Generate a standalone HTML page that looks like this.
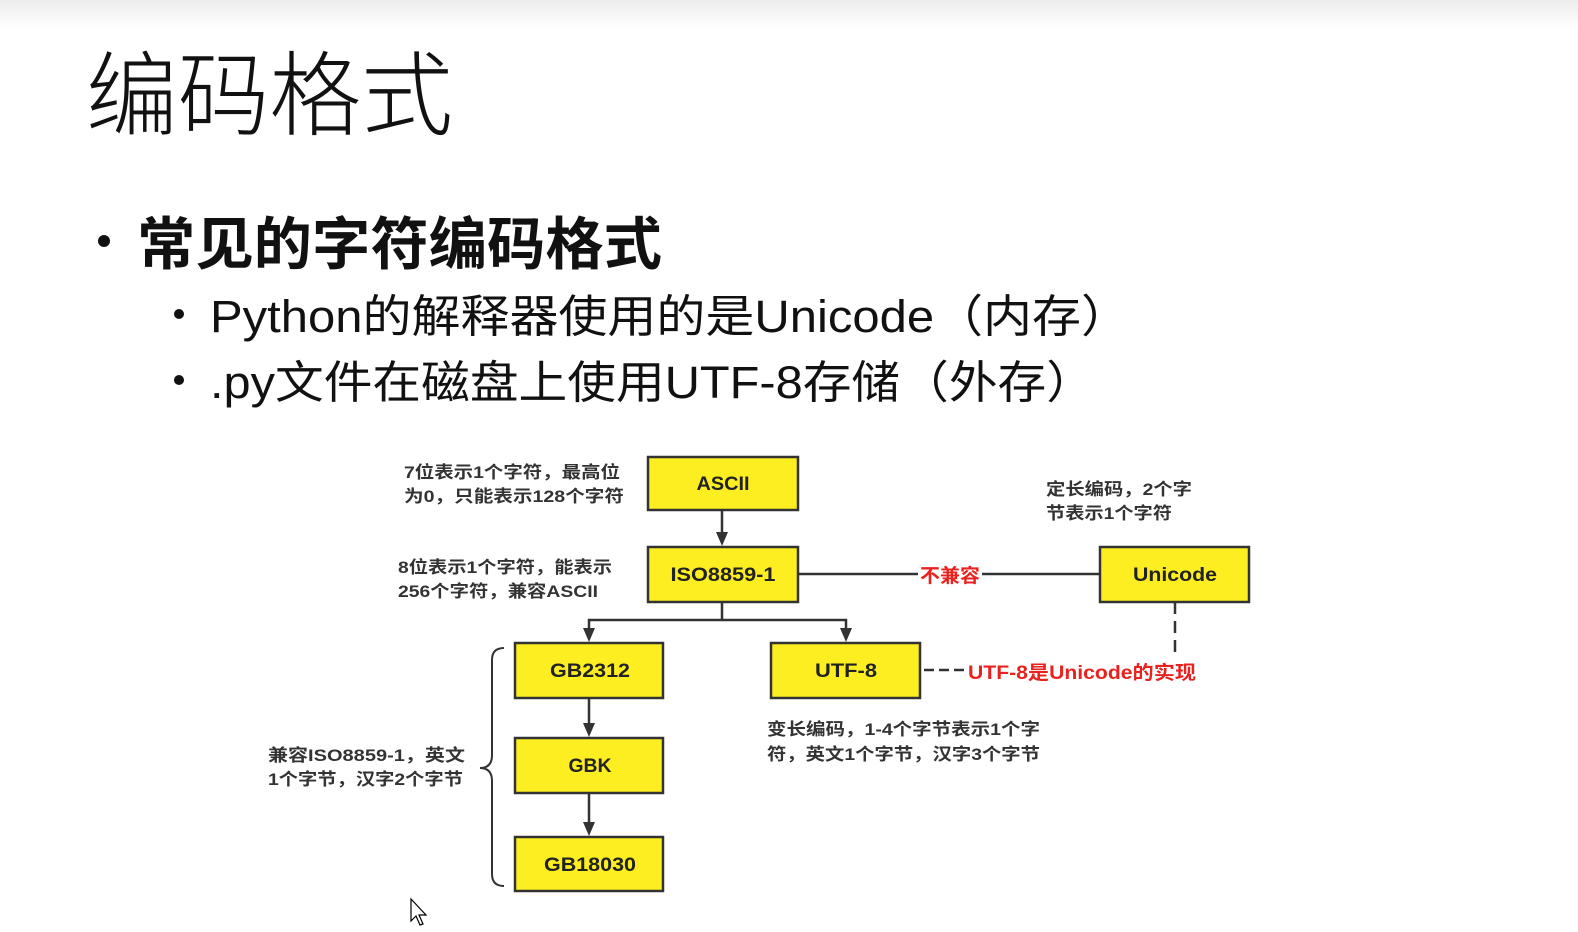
<!DOCTYPE html>
<html><head><meta charset="utf-8"><style>
html,body{margin:0;padding:0;background:#fff;width:1578px;height:932px;overflow:hidden}
svg{display:block}
text{font-family:"Liberation Sans","Noto Sans CJK SC",sans-serif}
.n{font-size:19px;font-weight:bold;fill:#222;text-anchor:middle}
.c{font-size:17px;font-weight:bold;fill:#333}
</style></head><body>
<svg width="1578" height="932" viewBox="0 0 1578 932">
<defs>
<linearGradient id="g" x1="0" y1="0" x2="0" y2="1"><stop offset="0" stop-color="#ececec"/><stop offset="1" stop-color="#fff"/></linearGradient>
</defs>
<rect x="0" y="0" width="1578" height="28" fill="url(#g)"/>
<text x="86" y="128" textLength="367" lengthAdjust="spacingAndGlyphs" style="font-size:92px;font-weight:300;fill:#111">编码格式</text>
<circle cx="104" cy="241" r="6" fill="#111"/>
<text x="137" y="264" textLength="525" lengthAdjust="spacingAndGlyphs" style="font-size:57px;font-weight:bold;fill:#111">常见的字符编码格式</text>
<circle cx="179" cy="314" r="5" fill="#111"/>
<text x="210" y="332" textLength="920" lengthAdjust="spacingAndGlyphs" style="font-size:45px;fill:#111">Python的解释器使用的是Unicode（内存）</text>
<circle cx="179" cy="380" r="5" fill="#111"/>
<text x="210" y="398" textLength="885" lengthAdjust="spacingAndGlyphs" style="font-size:45px;fill:#111">.py文件在磁盘上使用UTF-8存储（外存）</text>

<g stroke="#333" stroke-width="2.5" fill="none">
<line x1="722" y1="510" x2="722" y2="534"/>
<polyline points="722,602 722,620 589,620 589,630"/>
<polyline points="722,620 846,620 846,630"/>
<line x1="798" y1="574" x2="918" y2="574"/>
<line x1="982" y1="574" x2="1100" y2="574"/>
<line x1="589" y1="698" x2="589" y2="725"/>
<line x1="589" y1="793" x2="589" y2="824"/>
<line x1="1175" y1="602" x2="1175" y2="656" stroke-dasharray="12,7"/>
<line x1="924" y1="670" x2="968" y2="670" stroke-dasharray="10,5"/>
<path d="M504,648 Q492,648 492,660 L492,755 Q492,768 480,768 Q492,768 492,781 L492,874 Q492,886 504,886" stroke-width="2"/>
</g>
<g fill="#333">
<polygon points="716,532 728,532 722,546"/>
<polygon points="583,628 595,628 589,642"/>
<polygon points="840,628 852,628 846,642"/>
<polygon points="583,723 595,723 589,737"/>
<polygon points="583,822 595,822 589,836"/>
</g>

<g fill="#fcee21" stroke="#333" stroke-width="2.5">
<rect x="648" y="457" width="150" height="53"/>
<rect x="648" y="547" width="150" height="55"/>
<rect x="1100" y="547" width="149" height="55"/>
<rect x="515" y="643" width="148" height="55"/>
<rect x="771" y="643" width="149" height="55"/>
<rect x="515" y="738" width="148" height="55"/>
<rect x="515" y="837" width="148" height="54"/>
</g>
<text class="n" x="723" y="490" textLength="53" lengthAdjust="spacingAndGlyphs">ASCII</text>
<text class="n" x="723" y="581" textLength="105" lengthAdjust="spacingAndGlyphs">ISO8859-1</text>
<text class="n" x="1175" y="581" textLength="84" lengthAdjust="spacingAndGlyphs">Unicode</text>
<text class="n" x="590" y="677" textLength="80" lengthAdjust="spacingAndGlyphs">GB2312</text>
<text class="n" x="846" y="677" textLength="62" lengthAdjust="spacingAndGlyphs">UTF-8</text>
<text class="n" x="590" y="772" textLength="43" lengthAdjust="spacingAndGlyphs">GBK</text>
<text class="n" x="590" y="871" textLength="92" lengthAdjust="spacingAndGlyphs">GB18030</text>

<text x="920" y="582" textLength="60" lengthAdjust="spacingAndGlyphs" style="font-size:19px;font-weight:bold;fill:#e8231f">不兼容</text>
<text x="968" y="679" textLength="228" lengthAdjust="spacingAndGlyphs" style="font-size:19px;font-weight:bold;fill:#e8231f">UTF-8是Unicode的实现</text>

<text class="c" x="404" y="478" textLength="216" lengthAdjust="spacingAndGlyphs">7位表示1个字符，最高位</text>
<text class="c" x="404" y="502" textLength="220" lengthAdjust="spacingAndGlyphs">为0，只能表示128个字符</text>
<text class="c" x="398" y="573" textLength="214" lengthAdjust="spacingAndGlyphs">8位表示1个字符，能表示</text>
<text class="c" x="398" y="597" textLength="200" lengthAdjust="spacingAndGlyphs">256个字符，兼容ASCII</text>
<text class="c" x="1046" y="495" textLength="146" lengthAdjust="spacingAndGlyphs">定长编码，2个字</text>
<text class="c" x="1046" y="519" textLength="126" lengthAdjust="spacingAndGlyphs">节表示1个字符</text>
<text class="c" x="767" y="735" textLength="273" lengthAdjust="spacingAndGlyphs">变长编码，1-4个字节表示1个字</text>
<text class="c" x="767" y="760" textLength="273" lengthAdjust="spacingAndGlyphs">符，英文1个字节，汉字3个字节</text>
<text class="c" x="268" y="761" textLength="197" lengthAdjust="spacingAndGlyphs">兼容ISO8859-1，英文</text>
<text class="c" x="268" y="785" textLength="195" lengthAdjust="spacingAndGlyphs">1个字节，汉字2个字节</text>

<path d="M411,899 L411,921 L416,916 L420,925 L423,924 L419,915 L426,915 Z" fill="#fff" stroke="#000" stroke-width="1.2"/>
</svg>
</body></html>
